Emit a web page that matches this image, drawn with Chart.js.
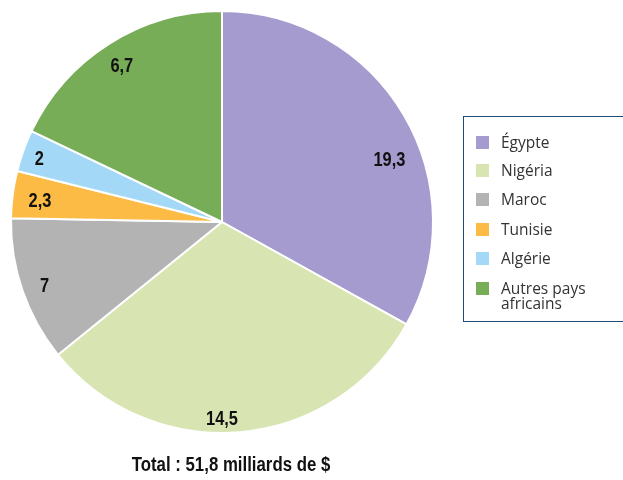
<!DOCTYPE html>
<html>
<head>
<meta charset="utf-8">
<script src="https://cdn.jsdelivr.net/npm/chart.js@4"></script>
<style>
  body { margin: 0; background: #fff; width: 623px; height: 480px; overflow: hidden; position: relative; }
  #wrap { position: absolute; left: 0; top: 0; width: 623px; height: 480px; }
  #legend { position: absolute; left: 463px; top: 116px; width: 175px; height: 206px; border: 1px solid #1f4b78; box-sizing: border-box; }
  .item { position: absolute; left: 12px; font-family: "Open Sans", sans-serif; font-size: 15.5px; color: #333; line-height: 15px; }
  .sw { position: absolute; left: 0; top: 1px; width: 13px; height: 13px; }
  .lbl { position: absolute; left: 25px; top: 0; white-space: nowrap; }
  #total { position: absolute; left: 0; width: 462px; top: 453px; text-align: center; font-family: "Liberation Sans", sans-serif; font-weight: bold; font-size: 20px; color: #111; transform: scaleX(0.84); transform-origin: 231px 0; }
</style>
</head>
<body>
<div id="wrap"><canvas id="myChart" width="623" height="480"></canvas></div>
<div id="legend"></div>
<div id="total">Total : 51,8 milliards de $</div>
<script>
const pays = ["Égypte", "Nigéria", "Maroc", "Tunisie", "Algérie", "Autres pays\nafricains"];
// valeurs imprimées (milliards de $)
const valeurs = [19.3, 14.5, 7, 2.3, 2, 6.7];
// taille des parts telle que dessinée sur l'image (degrés)
const partsDessinees = [119, 112, 40, 13, 11.5, 64.5];
const couleurs = ["#a59bcf", "#d8e5b2", "#b3b3b3", "#fbbb44", "#a3d9f6", "#78ad58"];

const fmt = v => String(v).replace(".", ",");

// étiquettes dans les parts
const labelsPlugin = {
  id: "labelsPlugin",
  afterDatasetsDraw(chart, args, opts) {
    const ctx = chart.ctx;
    const meta = chart.getDatasetMeta(0);
    ctx.save();
    ctx.font = "bold 20px 'Liberation Sans', sans-serif";
    ctx.fillStyle = "#111";
    ctx.textAlign = "center";
    ctx.textBaseline = "middle";
    meta.data.forEach((arc, i) => {
      const nudge = opts.nudges[i] || {};
      const mid = (arc.startAngle + arc.endAngle) / 2 + (nudge.angle || 0) * Math.PI / 180;
      const r = arc.outerRadius * (nudge.r || 0.89);
      const x = arc.x + Math.cos(mid) * r;
      const y = arc.y + Math.sin(mid) * r + 3;
      ctx.save();
      ctx.translate(x, y);
      ctx.scale(0.82, 1);
      ctx.fillText(fmt(valeurs[i]), 0, 0);
      ctx.restore();
    });
    ctx.restore();
  }
};

const config = {
  type: "pie",
  data: {
    labels: pays,
    datasets: [{
      data: partsDessinees,
      backgroundColor: couleurs,
      borderColor: "#fff",
      borderWidth: 2
    }]
  },
  options: {
    responsive: false,
    animation: false,
    layout: { padding: { left: 10, top: 10, right: 189, bottom: 46 } },
    plugins: {
      legend: { display: false },
      tooltip: { enabled: false },
      labelsPlugin: { nudges: { 0: { angle: 9.5, r: 0.85 }, 1: { angle: 5, r: 0.92 }, 3: { r: 0.87 }, 4: { r: 0.92 } } }
    }
  },
  plugins: [labelsPlugin]
};

const context = document.getElementById("myChart").getContext("2d");
const chart = new Chart(context, config);

// légende
const legend = document.getElementById("legend");
const tops = [18, 46, 75, 105, 134, 164];
pays.forEach((p, i) => {
  const d = document.createElement("div");
  d.className = "item";
  d.style.top = tops[i] + "px";
  d.innerHTML = `<div class="sw" style="background:${couleurs[i]}"></div><div class="lbl">${p.replace("\n", "<br>")}</div>`;
  legend.appendChild(d);
});
</script>
</body>
</html>
